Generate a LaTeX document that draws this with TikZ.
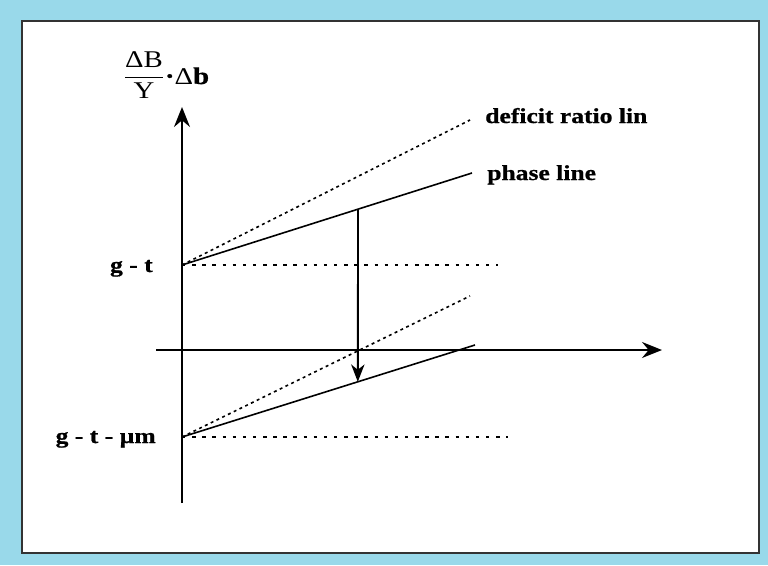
\documentclass[tikz,border=0pt]{standalone}
\usepackage{amsmath}
\usepackage{fontspec}
\setmainfont{Liberation Serif}
\newfontfamily\lblfont[FakeStretch=1.2, BoldFeatures={FakeBold=0.8}]{Liberation Serif}
\usepackage{tikz}
\usetikzlibrary{arrows.meta,positioning,calc}
\definecolor{frameblue}{RGB}{153,217,234}
\tikzstyle{axis}     =[-{Stealth[length=15pt,width=12pt,inset=5pt]}, line width=1.4pt]
\tikzstyle{shiftarr} =[-{Stealth[length=13pt,width=10pt,inset=4pt]}, line width=1.4pt]
\tikzstyle{phase}    =[line width=1.2pt]
\tikzstyle{ratio}    =[line width=1.2pt, dash pattern=on 2.2pt off 2.6pt]
\tikzstyle{level}    =[line width=1.2pt, dash pattern=on 2.6pt off 5pt]
\tikzstyle{lbl}      =[inner sep=0pt, font=\fontsize{16}{19}\selectfont\lblfont\bfseries]

\begin{document}
\begin{tikzpicture}[x=0.75pt, y=-0.75pt]

  % ── frame ──────────────────────────────────────────────────────────────────
  \fill[frameblue] (0,0) rectangle (768,565);
  \filldraw[fill=white, draw=black!80, line width=1.8pt] (22,21) rectangle (759,553);
  \useasboundingbox (0,0) rectangle (768,565);

  % ── axes ───────────────────────────────────────────────────────────────────
  \coordinate (ybot) at (182,503);
  \coordinate (ytop) at (182,107);
  \coordinate (xlft) at (156,350);
  \coordinate (xrgt) at (662,350);
  \draw[axis] (ybot) -- (ytop);
  \draw[axis] (xlft) -- (xrgt);

  % ── upper level (g - t) ────────────────────────────────────────────────────
  \coordinate (gt)  at (182,265);
  \coordinate (du)  at (470,120);
  \coordinate (pu)  at (472,173);
  \coordinate (hu)  at (498,265);
  \draw[ratio] (gt) -- (du);
  \draw[phase] (gt) -- (pu);
  \draw[level] (gt) -- (hu);

  % ── lower level (g - t - mu m) ─────────────────────────────────────────────
  \coordinate (gtm) at (182,437);
  \coordinate (dl)  at (470,296);
  \coordinate (pl)  at (475,345);
  \coordinate (hl)  at (508,437);
  \draw[ratio] (gtm) -- (dl);
  \draw[phase] (gtm) -- (pl);
  \draw[level] (gtm) -- (hl);

  % ── shift of the phase line ────────────────────────────────────────────────
  \coordinate (su) at ($(gt)!0.607!(pu)$);
  \coordinate (sl) at ($(gtm)!0.6!(pl)$);
  \draw[shiftarr] (su) -- (sl);

  % ── labels ─────────────────────────────────────────────────────────────────
  \node[lbl, anchor=base west] (dlab) at (485,123) {deficit ratio lin};
  \node[lbl, anchor=base west] (plab) at (487,180) {phase line};
  \node[lbl, anchor=base east] (gtlab)  at (153,272) {g - t};
  \node[lbl, anchor=base east] (gtmlab) at (156,443) {g - t - µm};
  \node[inner sep=0pt, font=\fontsize{18}{21}\selectfont\lblfont] (yfrac) at (144,75)
    {$\dfrac{\mbox{ΔB}}{\mbox{Y}}$};
  \node[inner sep=0pt, anchor=base west, font=\fontsize{18}{21}\selectfont\lblfont] (ylab)
    at (yfrac.east |- 0,84) {\textbf{·}Δ\textbf{b}};

\end{tikzpicture}
\end{document}
